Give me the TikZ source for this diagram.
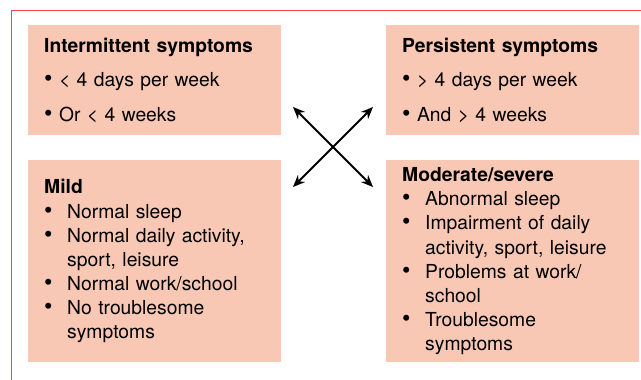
\documentclass[tikz,border=0pt]{standalone}
\usepackage{fontspec}
\setmainfont{TeX Gyre Heros}
\usepackage{xcolor}
\usetikzlibrary{arrows.meta, positioning}
\definecolor{boxpeach}{RGB}{249,200,180}
\definecolor{framered}{RGB}{236,72,82}
\newcommand{\bigdot}{{\fontsize{24}{24}\selectfont\textbullet}}
\newcommand{\bitem}{\par\hangindent=23pt\hangafter=1\noindent\makebox[23pt][l]{\bigdot}}

\begin{document}
\begin{tikzpicture}[x=1pt, y=-1pt,
  catbox/.style={fill=boxpeach, anchor=north west, text width=221pt, align=left,
    inner xsep=16pt, inner ysep=0pt},
  freqbox/.style={catbox, minimum height=110pt, font=\fontsize{19.3}{34.5}\selectfont},
  sevbox/.style={catbox, minimum height=202pt, font=\fontsize{19.3}{24.1}\selectfont},
  twoway/.style={{Stealth[length=12pt,width=10pt]}-{Stealth[length=12pt,width=10pt]}, line width=1.8pt}]
  \useasboundingbox (0,0) rectangle (641,380);
  \draw[framered, line width=1pt] (11.5,400) -- (11.5,10.5) -- (660,10.5);

  \node[freqbox] (inter) at (28,25) {\textbf{Intermittent symptoms}\\
    \bigdot\ < 4 days per week\\
    \bigdot\ Or < 4 weeks};
  \node[freqbox] (pers) at (386,25) {\textbf{Persistent symptoms}\\
    \bigdot\ > 4 days per week\\
    \bigdot\ And > 4 weeks};
  \node[sevbox] (mild) at (28,160) {\textbf{Mild}
    \bitem Normal sleep
    \bitem Normal daily activity,\newline sport, leisure
    \bitem Normal work/school
    \bitem No troublesome\newline symptoms\par};
  \node[sevbox] (modsev) at (386,160) {\textbf{Moderate/severe}
    \bitem Abnormal sleep
    \bitem Impairment of daily\newline activity, sport, leisure
    \bitem Problems at work/\newline school
    \bitem Troublesome\newline symptoms\par};

  \coordinate (tl) at (293,107);
  \coordinate (tr) at (373,107);
  \coordinate (bl) at (293,187);
  \coordinate (br) at (373,187);
  \draw[twoway] (tl) -- (br);
  \draw[twoway] (bl) -- (tr);
\end{tikzpicture}
\end{document}
